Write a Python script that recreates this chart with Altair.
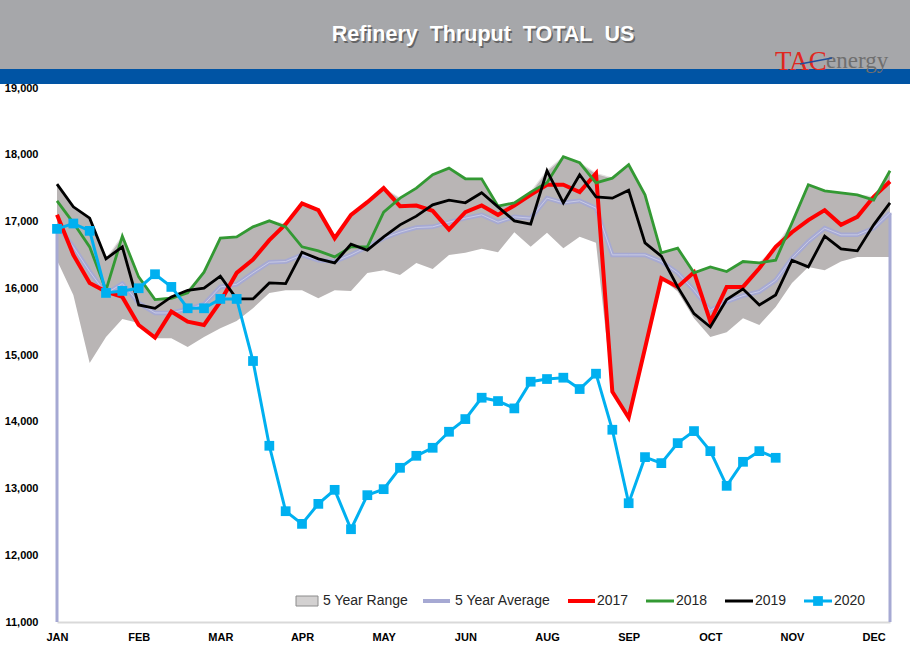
import altair as alt
import pandas as pd

# ---------------- data (weekly, thousand b/d) ----------------
weeks = list(range(52))
month_labels = ["JAN", "FEB", "MAR", "APR", "MAY", "JUN", "AUG", "SEP", "OCT", "NOV", "DEC"]
label_weeks = [0, 5, 10, 15, 20, 25, 30, 35, 40, 45, 50]

y2017 = [17100, 16500, 16080, 15950, 15870, 15450, 15260, 15650, 15500, 15450,
         15800, 16230, 16430, 16720, 16960, 17270, 17170, 16750, 17100, 17290,
         17500, 17230, 17240, 17160, 16880, 17140, 17240, 17100, 17240, 17400,
         17550, 17550, 17440, 17720, 14450, 14060, 15100, 16150, 16020, 16240,
         15500, 16020, 16020, 16300, 16620, 16840, 17020, 17170, 16950, 17070,
         17370, 17600]

y2018 = [17310, 16980, 16620, 15970, 16780, 16170, 15830, 15850, 15930, 16240,
         16750, 16770, 16920, 17010, 16920, 16620, 16560, 16470, 16620, 16620,
         17140, 17350, 17500, 17700, 17800, 17640, 17640, 17230, 17280, 17440,
         17580, 17970, 17880, 17580, 17650, 17850, 17400, 16530, 16600, 16230,
         16320, 16250, 16400, 16380, 16420, 16980, 17550, 17460, 17430, 17400,
         17320, 17760]

y2019 = [17560, 17220, 17050, 16440, 16620, 15750, 15700, 15870, 15970, 16000,
         16180, 15840, 15840, 16080, 16070, 16540, 16440, 16380, 16660, 16570,
         16770, 16950, 17080, 17250, 17320, 17280, 17430, 17220, 17010, 16960,
         17760, 17280, 17700, 17370, 17350, 17470, 16680, 16480, 16020, 15620,
         15420, 15830, 15990, 15750, 15900, 16420, 16320, 16780, 16590, 16560,
         16950, 17280]

y2020 = [16890, 16970, 16860, 15930, 15960, 16000, 16210, 16020, 15700, 15700,
         15840, 15840, 14910, 13640, 12660, 12470, 12770, 12980, 12390, 12900,
         12990, 13310, 13490, 13610, 13850, 14040, 14360, 14310, 14200, 14600,
         14640, 14660, 14490, 14720, 13880, 12780, 13470, 13380, 13680, 13860,
         13560, 13040, 13400, 13560, 13460,
         None, None, None, None, None, None, None]

avg5 = [16950, 16620, 16250, 15920, 16070, 15780, 15630, 15630, 15690, 15760,
        16020, 16060, 16230, 16390, 16400, 16500, 16420, 16400, 16500, 16620,
        16750, 16840, 16910, 16920, 16990, 17050, 17100, 16990, 17070, 17050,
        17350, 17280, 17310, 17200, 16500, 16500, 16500, 16400, 16230, 15970,
        15670, 15800, 15890, 15950, 16120, 16450, 16700, 16900, 16800, 16800,
        16900, 17130]

range_lo = [16420, 15900, 14880, 15270, 15540, 15480, 15250, 15250, 15120, 15270,
            15400, 15510, 15700, 15930, 15970, 15970, 15850, 15970, 15960, 16230,
            16270, 16200, 16380, 16290, 16500, 16530, 16590, 16540, 16840, 16620,
            16830, 16600, 16770, 16680, 14450, 14060, 15100, 16150, 15950, 15550,
            15270, 15340, 15550, 15450, 15720, 16080, 16320, 16270, 16400, 16470,
            16470, 16470]

range_hi = [17560, 17220, 17050, 16440, 16780, 16170, 15830, 15870, 15970, 16240,
            16750, 16770, 16920, 17010, 16960, 17270, 17170, 16750, 17100, 17290,
            17500, 17350, 17500, 17700, 17800, 17640, 17640, 17230, 17280, 17440,
            17760, 17970, 17880, 17720, 17650, 17850, 17400, 16530, 16600, 16240,
            16320, 16250, 16400, 16380, 16620, 16980, 17550, 17460, 17430, 17400,
            17370, 17760]

y_ticks = [11000, 12000, 13000, 14000, 15000, 16000, 17000, 18000, 19000]

df = pd.DataFrame({
    "week": weeks, "y2017": y2017, "y2018": y2018, "y2019": y2019,
    "y2020": y2020, "avg": avg5, "lo": range_lo, "hi": range_hi,
})
ends = pd.DataFrame({"week": [weeks[0], weeks[-1]],
                     "avg": [avg5[0], avg5[-1]],
                     "bottom": [y_ticks[0], y_ticks[0]]})
one = pd.DataFrame({"k": [0]})

# ---------------- style ----------------
W, H = 833, 534
PL, PT = 57, 88
RED, GREEN, BLACK, BLUE = "#ff0000", "#339933", "#000000", "#00b0f0"
LAV, RANGE = "#a6a9d3", "#b9b5b5"
FONT = "Liberation Sans"

label_expr = "[" + ",".join("'%s'" % m for m in month_labels) + "][round(datum.value/5)]"

xaxis = alt.Axis(values=label_weeks, labelExpr=label_expr, ticks=False,
                 grid=False, domain=True, domainColor="#d9d9d9",
                 domainWidth=2, labelFont=FONT, labelFontSize=11,
                 labelFontWeight="bold", labelColor="#000000",
                 labelPadding=9, labelFlush=False, labelOverlap=False)
yaxis = alt.Axis(values=y_ticks, labelExpr="format(datum.value, ',')", ticks=False,
                 grid=False, domain=False, labelFont=FONT,
                 labelFontSize=11, labelFontWeight="bold",
                 labelColor="#000000", labelPadding=19, labelFlush=False,
                 labelOverlap=False)
xscale = alt.Scale(domain=[0, 51], nice=False, zero=False)
yscale = alt.Scale(domain=[11000, 19000], nice=False, zero=False)


def xenc():
    return alt.X("week:Q", title=None, scale=xscale, axis=xaxis)


def yenc(field):
    return alt.Y(field, title=None, scale=yscale, axis=yaxis)


base = alt.Chart(df)

area = base.mark_area(color=RANGE, opacity=1).encode(
    x=xenc(), y=yenc("lo:Q"), y2="hi:Q")
area_edge = base.mark_line(color="#e4e2e2", strokeWidth=1.2).encode(
    x=xenc(), y=yenc("hi:Q"))
end_rules = alt.Chart(ends).mark_rule(color=LAV, strokeWidth=3).encode(
    x=xenc(), y=yenc("avg:Q"), y2="bottom:Q")
avg_line = base.mark_line(color=LAV, strokeWidth=4.5).encode(
    x=xenc(), y=yenc("avg:Q"))
avg_hl = base.mark_line(color="#c9cbe6", strokeWidth=1).encode(
    x=xenc(), y=yenc("avg:Q"))
l17 = base.mark_line(color=RED, strokeWidth=4).encode(x=xenc(), y=yenc("y2017:Q"))
l18 = base.mark_line(color=GREEN, strokeWidth=2.8).encode(x=xenc(), y=yenc("y2018:Q"))
l19 = base.mark_line(color=BLACK, strokeWidth=2.8).encode(x=xenc(), y=yenc("y2019:Q"))
l20 = base.mark_line(color=BLUE, strokeWidth=3).encode(x=xenc(), y=yenc("y2020:Q"))
p20 = base.transform_filter("isValid(datum.y2020)").mark_square(
    color=BLUE, size=95, opacity=1).encode(x=xenc(), y=yenc("y2020:Q"))

# ---------------- header ----------------
hdr = alt.Chart(one)
TITLE = "Refinery\u00a0\u00a0Thruput\u00a0\u00a0TOTAL\u00a0\u00a0US"
header_gray = hdr.mark_rect(color="#a6a7aa").encode(
    x=alt.value(-PL), x2=alt.value(910 - PL), y=alt.value(-PT), y2=alt.value(69 - PT))
header_blue = hdr.mark_rect(color="#0054a4").encode(
    x=alt.value(-PL), x2=alt.value(910 - PL), y=alt.value(69 - PT), y2=alt.value(84 - PT))
title_shadow = hdr.mark_text(font=FONT, fontSize=21.5, fontWeight="bold",
                             color="#4a4a4a", opacity=0.7, align="center",
                             baseline="middle").encode(
    x=alt.value(483 - PL + 1.5), y=alt.value(35 - PT + 1.5), text=alt.value(TITLE))
title = hdr.mark_text(font=FONT, fontSize=21.5, fontWeight="bold", color="#ffffff",
                      align="center", baseline="middle").encode(
    x=alt.value(483 - PL), y=alt.value(35 - PT), text=alt.value(TITLE))
logo_tac = hdr.mark_text(font="Liberation Serif", fontSize=27, color="#e0281f",
                         align="left", baseline="alphabetic").encode(
    x=alt.value(775 - PL), y=alt.value(70 - PT), text=alt.value("TAC"))
logo_energy = hdr.mark_text(font="Liberation Serif", fontSize=23, color="#6f6f6f",
                            align="left", baseline="alphabetic").encode(
    x=alt.value(826 - PL), y=alt.value(68 - PT), text=alt.value("energy"))
logo_swoosh = hdr.mark_rule(color="#1f4f9c", strokeWidth=1.5).encode(
    x=alt.value(800 - PL), x2=alt.value(832 - PL),
    y=alt.value(64 - PT), y2=alt.value(58 - PT))

# ---------------- legend ----------------
LY = 601 - PT
leg_items = [hdr.mark_rect(color="#d3d1d1", stroke="#8c8c8c", strokeWidth=1).encode(
    x=alt.value(296 - PL), x2=alt.value(318 - PL), y=alt.value(LY - 5), y2=alt.value(LY + 5))]


def seg(x0, x1, color, w):
    return hdr.mark_rule(color=color, strokeWidth=w).encode(
        x=alt.value(x0 - PL), x2=alt.value(x1 - PL), y=alt.value(LY), y2=alt.value(LY))


def txt(x0, s):
    return hdr.mark_text(font=FONT, fontSize=14, color="#262626", align="left",
                         baseline="middle").encode(
        x=alt.value(x0 - PL), y=alt.value(LY), text=alt.value(s))


leg_items += [
    txt(323, "5 Year Range"),
    seg(423, 450, LAV, 4), txt(455, "5 Year Average"),
    seg(568, 595, RED, 4), txt(597, "2017"),
    seg(646, 674, GREEN, 3), txt(676, "2018"),
    seg(725, 753, BLACK, 3), txt(755, "2019"),
    seg(804, 832, BLUE, 3), txt(834, "2020"),
    hdr.mark_square(color=BLUE, size=95, opacity=1).encode(
        x=alt.value(818 - PL), y=alt.value(LY)),
]

chart = alt.layer(
    area, area_edge, end_rules, avg_line, avg_hl, l17, l18, l19, l20, p20,
    header_gray, header_blue, title_shadow, title, logo_tac, logo_energy, logo_swoosh,
    *leg_items
).properties(
    width=W, height=H,
    padding={"left": PL, "top": PT, "right": 910 - PL - W, "bottom": 659 - PT - H},
    autosize=alt.AutoSizeParams(type="none"),
    background="#ffffff",
).configure_view(stroke=None)

chart.save("out.html", embed_options={"renderer": "svg", "actions": False})
